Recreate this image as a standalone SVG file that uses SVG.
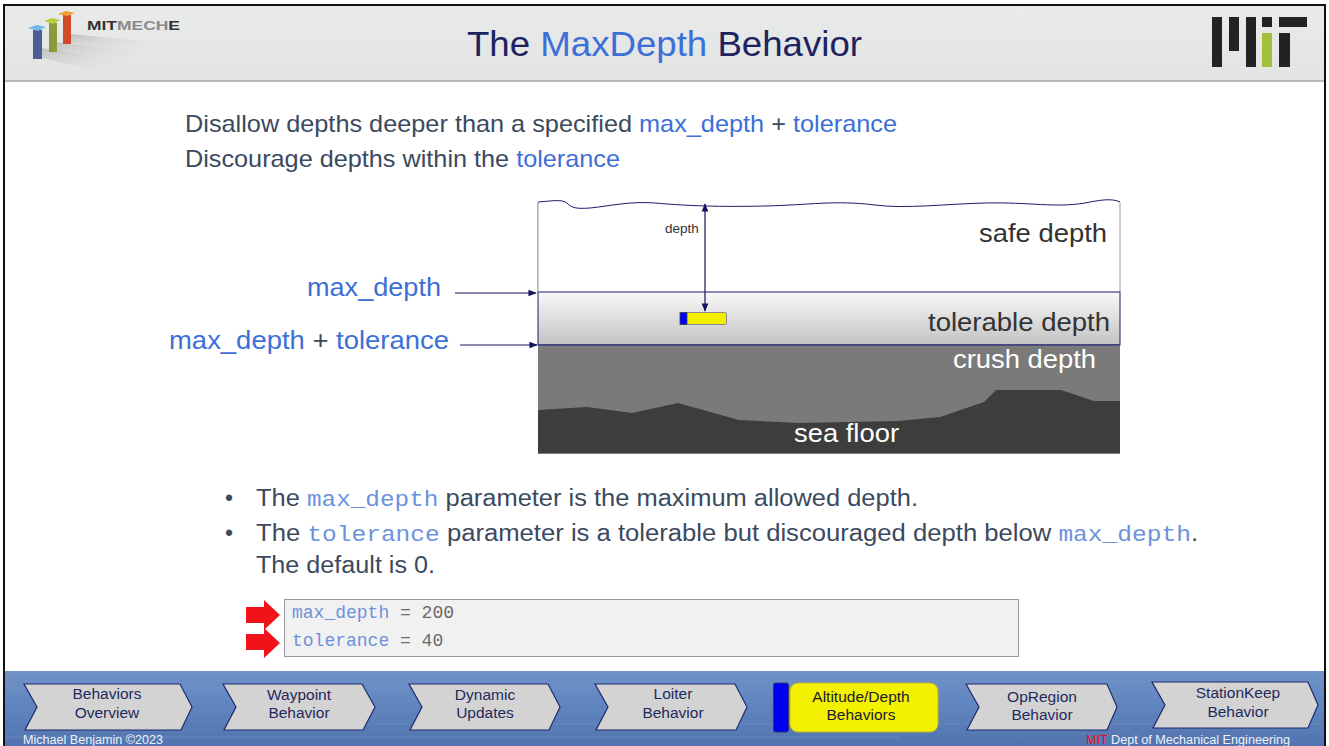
<svg xmlns="http://www.w3.org/2000/svg" width="1329" height="746" viewBox="0 0 1329 746">
  <style>
    .sans { font-family: "Liberation Sans", Arial, sans-serif; }
    .mono { font-family: "Liberation Mono", "Courier New", monospace; }
    .body { fill: #3b4a5e; font-size: 24px; }
    .blue { fill: #3d6fd8; }
    .code { fill: #6d92dc; }
    .lbl { font-size: 25px; }
    .btn { fill: #d3d3d3; stroke: #1f2a6e; stroke-width: 1.2; }
    .btntxt { fill: #1f2a5e; font-size: 15.5px; text-anchor: middle; }
    .conn { stroke: #14145e; stroke-width: 1.2; fill: none; }
  </style>
  <defs>
    <linearGradient id="hdr" x1="0" y1="0" x2="0" y2="1">
      <stop offset="0" stop-color="#e9eaea"/>
      <stop offset="1" stop-color="#e2e3e3"/>
    </linearGradient>
    <linearGradient id="tol" x1="0" y1="0" x2="0" y2="1">
      <stop offset="0" stop-color="#f8f8f8"/>
      <stop offset="1" stop-color="#c3c3c3"/>
    </linearGradient>
    <linearGradient id="sea" x1="0" y1="0" x2="0" y2="1">
      <stop offset="0" stop-color="#6f92c8"/>
      <stop offset="0.5" stop-color="#5f83bd"/>
      <stop offset="1" stop-color="#5274ae"/>
    </linearGradient>
    <linearGradient id="shadow" x1="0" y1="0" x2="1" y2="1">
      <stop offset="0" stop-color="#b8b8b8" stop-opacity="0.8"/>
      <stop offset="1" stop-color="#e4e4e4" stop-opacity="0"/>
    </linearGradient>
    <marker id="ah" viewBox="0 0 10 10" refX="9" refY="5" markerWidth="7" markerHeight="7" orient="auto-start-reverse">
      <path d="M0,1 L10,5 L0,9 z" fill="#14145e"/>
    </marker>
  </defs>

  <!-- page -->
  <rect x="0" y="0" width="1329" height="746" fill="#ffffff"/>

  <!-- header band -->
  <g id="header">
    <rect x="5" y="6" width="1320" height="74" fill="url(#hdr)"/>
    <rect x="5" y="80" width="1320" height="2" fill="#b9b9b9"/>
    <!-- MechE logo -->
    <g id="logo-meche">
      <polygon points="42,58 42,48 120,62 100,72" fill="url(#shadow)"/>
      <polygon points="56,52 56,42 140,52 120,62" fill="url(#shadow)"/>
      <polygon points="71,43 71,34 150,42 135,52" fill="url(#shadow)"/>
      <rect x="33" y="30" width="9" height="29" fill="#4b5e97"/>
      <polygon points="28,28 37,25 46,27 38,31" fill="#74b6e4"/>
      <rect x="49" y="23" width="8" height="29" fill="#8c9a3c"/>
      <polygon points="44,21 52,18 60,20 53,24" fill="#b6d03c"/>
      <rect x="63" y="15" width="8" height="29" fill="#cf4a2a"/>
      <polygon points="58,14 66,11 75,13 67,16" fill="#f59c32"/>
      <text x="87" y="30" class="sans" font-size="12.5" font-weight="bold" textLength="93" lengthAdjust="spacingAndGlyphs"><tspan fill="#333333">MIT</tspan><tspan fill="#8a8a8a">MECH</tspan><tspan fill="#333333">E</tspan></text>
    </g>
    <!-- MIT logo -->
    <g id="logo-mit" fill="#222222">
      <rect x="1212" y="17" width="10" height="50"/>
      <rect x="1229" y="17" width="10" height="34"/>
      <rect x="1246" y="17" width="10" height="50"/>
      <rect x="1262" y="17" width="10" height="10"/>
      <rect x="1262" y="33" width="10" height="34" fill="#a3c03a"/>
      <rect x="1279" y="17" width="28" height="10"/>
      <rect x="1279" y="33" width="11" height="34"/>
    </g>
    <text x="467" y="56" class="sans" font-size="35" fill="#1c2360" textLength="395" lengthAdjust="spacingAndGlyphs">The <tspan fill="#3d6fd8">MaxDepth</tspan> Behavior</text>
  </g>

  <!-- intro lines -->
  <g id="intro" class="sans body">
    <text x="185" y="132" textLength="712" lengthAdjust="spacingAndGlyphs">Disallow depths deeper than a specified <tspan class="blue">max_depth</tspan> + <tspan class="blue">tolerance</tspan></text>
    <text x="185" y="167" textLength="435" lengthAdjust="spacingAndGlyphs">Discourage depths within the <tspan class="blue">tolerance</tspan></text>
  </g>

  <!-- depth zones -->
  <g id="zone-safe">
    <path d="M538,292 L538,202" stroke="#9a9a9a" stroke-width="1" fill="none"/>
    <path d="M538,202 C552,201 562,199 567,203 C572,208 576,209 590,208 C610,206 630,201 655,203 C690,206 720,207 765,206 C810,205 835,200 875,205 C905,209 945,204 985,203 C1030,202 1055,208 1085,203 C1100,200 1112,198 1120,202 L1120,292 L538,292 Z" fill="#ffffff" stroke="none"/>
    <path d="M538,202 C552,201 562,199 567,203 C572,208 576,209 590,208 C610,206 630,201 655,203 C690,206 720,207 765,206 C810,205 835,200 875,205 C905,209 945,204 985,203 C1030,202 1055,208 1085,203 C1100,200 1112,198 1120,202" fill="none" stroke="#1c1c6b" stroke-width="1"/>
    <line x1="538" y1="202" x2="538" y2="292" stroke="#9a9a9a" stroke-width="1"/>
    <line x1="1120" y1="202" x2="1120" y2="292" stroke="#9a9a9a" stroke-width="1"/>
    <text x="979" y="242" class="sans lbl" fill="#333333" textLength="128" lengthAdjust="spacingAndGlyphs">safe depth</text>
  </g>
  <g id="zone-tolerable">
    <rect x="538" y="292" width="582" height="53" fill="url(#tol)" stroke="#1c1c6b" stroke-width="1"/>
    <text x="928" y="331" class="sans lbl" fill="#333333" textLength="182" lengthAdjust="spacingAndGlyphs">tolerable depth</text>
  </g>
  <g id="zone-crush">
    <rect x="538" y="345.5" width="582" height="108" fill="#7a7a7a"/>
    <line x1="538" y1="345" x2="1120" y2="345" stroke="#1c1c6b" stroke-width="1"/>
    <text x="953" y="368" class="sans lbl" fill="#ffffff" textLength="143" lengthAdjust="spacingAndGlyphs">crush depth</text>
  </g>
  <g id="zone-floor">
    <polygon points="538,410 587,407 632,413 678,403 739,420 798,423 898,421 940,417 984,402 996,390 1061,390 1094,401 1120,401 1120,453.5 538,453.5" fill="#3d3d3d"/>
    <text x="794" y="442" class="sans lbl" fill="#ffffff" textLength="105" lengthAdjust="spacingAndGlyphs">sea floor</text>
  </g>
  <g id="vehicle">
    <rect x="680.5" y="312.5" width="46" height="12" rx="2" fill="#f3ee00" stroke="#8a8a8a" stroke-width="1"/>
    <rect x="680" y="312.5" width="7" height="12" fill="#0000ff" stroke="#444444" stroke-width="0.8"/>
  </g>
  <text x="682" y="233" class="sans" font-size="13.5" text-anchor="middle" fill="#333333">depth</text>

  <!-- labels at left -->
  <g id="label-max" class="sans">
    <text x="307" y="296" font-size="26" fill="#3d6fd8" textLength="134" lengthAdjust="spacingAndGlyphs">max_depth</text>
  </g>
  <g id="label-maxtol" class="sans">
    <text x="169" y="349" font-size="26" fill="#3d6fd8" textLength="280" lengthAdjust="spacingAndGlyphs">max_depth <tspan fill="#3b4a5e">+</tspan> tolerance</text>
  </g>

  <!-- connectors -->
  <g id="connectors">
    <line class="conn" x1="705" y1="204" x2="705" y2="311" marker-start="url(#ah)" marker-end="url(#ah)"/>
    <line class="conn" x1="455" y1="293" x2="536" y2="293" marker-end="url(#ah)"/>
    <line class="conn" x1="460" y1="345" x2="537" y2="345" marker-end="url(#ah)"/>
  </g>

  <!-- bullets -->
  <g id="bullets" class="sans" font-size="23" fill="#3b4a5e">
    <text x="225" y="506">•</text>
    <text x="256" y="506" textLength="662" lengthAdjust="spacingAndGlyphs">The <tspan class="mono code" font-size="22">max_depth</tspan> parameter is the maximum allowed depth.</text>
    <text x="225" y="541">•</text>
    <text x="256" y="541" textLength="942" lengthAdjust="spacingAndGlyphs">The <tspan class="mono code" font-size="22">tolerance</tspan> parameter is a tolerable but discouraged depth below <tspan class="mono code" font-size="22">max_depth</tspan>.</text>
    <text x="256" y="573" textLength="179" lengthAdjust="spacingAndGlyphs">The default is 0.</text>
  </g>

  <!-- config snippet -->
  <g id="code-box">
    <rect x="284.5" y="599.5" width="734" height="57" fill="#f1f1f1" stroke="#9a9a9a" stroke-width="1"/>
    <text x="292" y="618" class="mono" font-size="18"><tspan class="code">max_depth</tspan><tspan fill="#6a6a6a"> = 200</tspan></text>
    <text x="292" y="646" class="mono" font-size="18"><tspan class="code">tolerance</tspan><tspan fill="#6a6a6a"> = 40</tspan></text>
  </g>
  <g id="red-arrows" fill="#f0141a">
    <polygon points="246,607 264,607 264,600 280,615 264,630 264,623 246,623"/>
    <polygon points="246,634 264,634 264,628 280,643 264,658 264,650 246,650"/>
  </g>

  <!-- footer navigation -->
  <g id="footer">
    <rect x="5" y="671" width="1320" height="75" fill="url(#sea)"/>
    <g stroke="#86a4d4" stroke-opacity="0.35" stroke-width="1">
      <line x1="5" y1="676" x2="1325" y2="676"/>
      <line x1="5" y1="688" x2="700" y2="688"/>
      <line x1="300" y1="724" x2="1325" y2="724"/>
      <line x1="5" y1="737" x2="900" y2="737"/>
    </g>
  </g>
  <g id="nav-overview">
    <polygon class="btn" points="24,684 180,684 192,707 181,730 25,730 37,707"/>
    <text class="sans btntxt" x="107" y="699">Behaviors</text>
    <text class="sans btntxt" x="107" y="718">Overview</text>
  </g>
  <g id="nav-waypoint">
    <polygon class="btn" points="223,684 362,684 375,707 363,730 224,730 236,707"/>
    <text class="sans btntxt" x="299" y="700">Waypoint</text>
    <text class="sans btntxt" x="299" y="718">Behavior</text>
  </g>
  <g id="nav-dynamic">
    <polygon class="btn" points="409,684 548,684 560,707 549,730 410,730 422,707"/>
    <text class="sans btntxt" x="485" y="700">Dynamic</text>
    <text class="sans btntxt" x="485" y="718">Updates</text>
  </g>
  <g id="nav-loiter">
    <polygon class="btn" points="595,684 735,684 747,707 736,730 596,730 608,707"/>
    <text class="sans btntxt" x="673" y="699">Loiter</text>
    <text class="sans btntxt" x="673" y="718">Behavior</text>
  </g>
  <g id="nav-altitude">
    <rect x="773.5" y="683" width="15" height="49" rx="2" fill="#0000f0" stroke="#333366" stroke-width="1"/>
    <rect x="790" y="683" width="148" height="49" rx="8" fill="#f3f000" stroke="#b8b830" stroke-width="1"/>
    <text class="sans btntxt" x="861" y="702" style="fill:#1a1a2e">Altitude/Depth</text>
    <text class="sans btntxt" x="861" y="720" style="fill:#1a1a2e">Behaviors</text>
  </g>
  <g id="nav-opregion">
    <polygon class="btn" points="966,684 1107,684 1117,707 1107,730 967,730 979,707"/>
    <text class="sans btntxt" x="1042" y="702">OpRegion</text>
    <text class="sans btntxt" x="1042" y="720">Behavior</text>
  </g>
  <g id="nav-stationkeep">
    <polygon class="btn" points="1152,682 1308,682 1318,705 1308,728 1153,728 1165,705"/>
    <text class="sans btntxt" x="1238" y="698">StationKeep</text>
    <text class="sans btntxt" x="1238" y="717">Behavior</text>
  </g>
  <g id="footer-text" class="sans" font-size="12">
    <text x="23" y="744" fill="#eef2fa" textLength="140" lengthAdjust="spacingAndGlyphs">Michael Benjamin ©2023</text>
    <text x="1086" y="744" fill="#eef2fa" textLength="204" lengthAdjust="spacingAndGlyphs"><tspan fill="#e8141a">MIT</tspan> Dept of Mechanical Engineering</text>
  </g>

  <!-- slide frame -->
  <rect x="4" y="5" width="1321" height="745" fill="none" stroke="#111111" stroke-width="2"/>
</svg>
